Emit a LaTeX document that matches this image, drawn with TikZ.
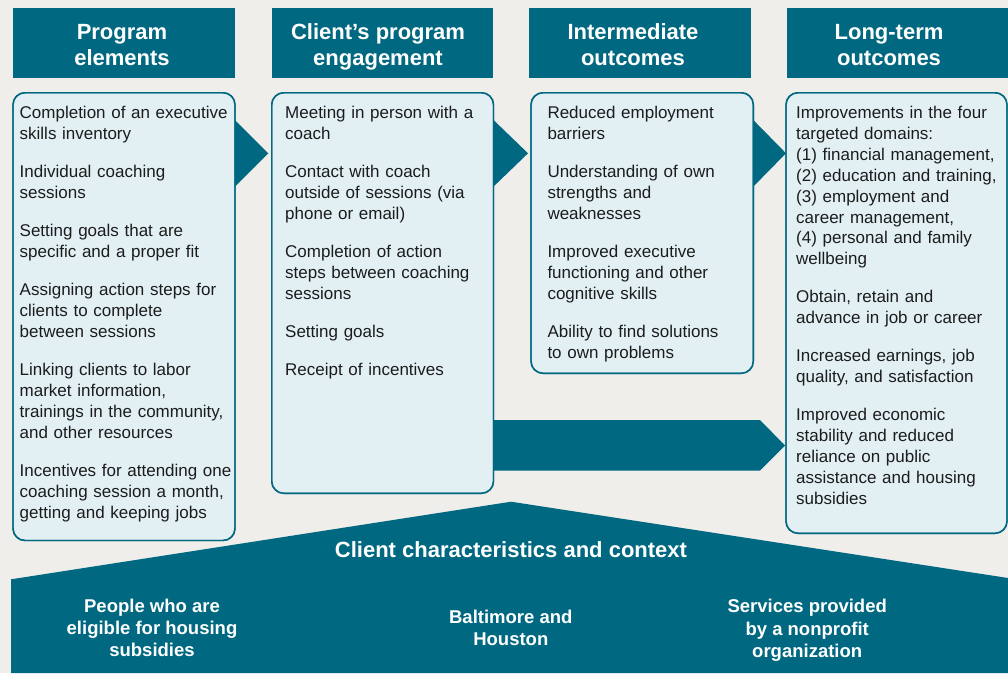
\documentclass[tikz,border=0pt]{standalone}
\usepackage{fontspec}
\setmainfont{Liberation Sans}
\usetikzlibrary{calc}
\definecolor{tealdark}{RGB}{0,104,128}
\definecolor{boxfill}{RGB}{226,240,244}
\definecolor{bgcol}{RGB}{239,238,235}
\definecolor{ink}{RGB}{28,28,28}
\tikzset{
  hdrbox/.style={fill=tealdark, draw=none, inner sep=0pt, outer sep=0pt, anchor=north west},
  hdrtxt/.style={font=\fontsize{22}{26}\selectfont\bfseries, text=white, align=center, inner sep=0pt, anchor=north},
  contentbox/.style={fill=boxfill, draw=tealdark, line width=1.4pt, rounded corners=12pt, inner sep=0pt, outer sep=0pt, anchor=north west},
  boxborder/.style={draw=tealdark, line width=1.4pt, rounded corners=12pt},
  bodytxt/.style={font=\fontsize{17}{20.9}\selectfont, text=ink, align=left, text width=235pt, inner sep=0pt, anchor=north west},
  ctxtxt/.style={font=\fontsize{18.5}{22.3}\selectfont\bfseries, text=white, align=center, inner sep=0pt, anchor=north},
  shapefill/.style={fill=tealdark, draw=none}
}
\newcommand{\pgap}{\\[17.2pt]}
\begin{document}
\begin{tikzpicture}[x=1pt,y=-1pt]
\fill[bgcol] (0,0) rectangle (1008,673);
\useasboundingbox (0,0) rectangle (1008,673);

% context pentagon
\coordinate (pl) at (11,579.3);
\coordinate (pk) at (511,501.7);
\coordinate (pr) at (1008,578);
\fill[shapefill] (11,673) -- (pl) -- (pk) -- (pr) -- (1008,673) -- cycle;

% headers
\node[hdrbox, minimum width=222pt, minimum height=70pt] (h1) at (13,8) {};
\node[hdrbox, minimum width=221.6pt, minimum height=70pt] (h2) at (271.7,8) {};
\node[hdrbox, minimum width=222pt, minimum height=70pt] (h3) at (529,8) {};
\node[hdrbox, minimum width=221pt, minimum height=70pt] (h4) at (787,8) {};

\node[hdrtxt] (t1) at (122,21.1) {\strut Program\\elements};
\node[hdrtxt] (t2) at (378,21.1) {\strut Client’s program\\engagement};
\node[hdrtxt] (t3) at (633,21.1) {\strut Intermediate\\outcomes};
\node[hdrtxt] (t4) at (889,21.1) {\strut Long-term\\outcomes};

% content boxes (geometry)
\node[contentbox, minimum width=222pt, minimum height=447.8pt] (b1) at (13,92.7) {};
\node[contentbox, minimum width=221.8pt, minimum height=400.6pt] (b2) at (271.7,92.7) {};
\node[contentbox, minimum width=222.3pt, minimum height=280.6pt] (b3) at (531,92.7) {};
\node[contentbox, minimum width=221pt, minimum height=440.6pt] (b4) at (786,92.7) {};

% arrows between boxes
\fill[shapefill] ([yshift=-27.3pt]b1.north east) -- ++(33.3,33.3) -- ++(-33.3,33.3) -- cycle;
\fill[shapefill] ([yshift=-27.3pt]b2.north east) -- ++(34.5,33.3) -- ++(-34.5,33.3) -- cycle;
\fill[shapefill] ([yshift=-27.3pt]b3.north east) -- ++(32.7,33.3) -- ++(-32.7,33.3) -- cycle;
% big arrow
\coordinate (ba) at (b2.east |- 0,420);
\fill[shapefill] (ba) -- (760,420) -- (785,445.5) -- (760,470.7) -- (b2.east |- 0,470.7) -- cycle;

% redraw box borders over arrows
\draw[boxborder] (b1.north west) rectangle (b1.south east);
\draw[boxborder] (b2.north west) rectangle (b2.south east);
\draw[boxborder] (b3.north west) rectangle (b3.south east);
\draw[boxborder] (b4.north west) rectangle (b4.south east);

% box texts
\node[bodytxt] (x1) at (19.5,103.7) {\strut Completion of an executive\\skills inventory\pgap
Individual coaching\\sessions\pgap
Setting goals that are\\specific and a proper fit\pgap
Assigning action steps for\\clients to complete\\between sessions\pgap
Linking clients to labor\\market information,\\trainings in the community,\\and other resources\pgap
Incentives for attending one\\coaching session a month,\\getting and keeping jobs};

\node[bodytxt] (x2) at (285,103.7) {\strut Meeting in person with a\\coach\pgap
Contact with coach\\outside of sessions (via\\phone or email)\pgap
Completion of action\\steps between coaching\\sessions\pgap
Setting goals\pgap
Receipt of incentives};

\node[bodytxt] (x3) at (547.3,103.7) {\strut Reduced employment\\barriers\pgap
Understanding of own\\strengths and\\weaknesses\pgap
Improved executive\\functioning and other\\cognitive skills\pgap
Ability to find solutions\\to own problems};

\node[bodytxt] (x4) at (796,103.7) {\strut Improvements in the four\\targeted domains:\\(1) financial management,\\(2) education and training,\\(3) employment and\\career management,\\(4) personal and family\\wellbeing\pgap
Obtain, retain and\\advance in job or career\pgap
Increased earnings, job\\quality, and satisfaction\pgap
Improved economic\\stability and reduced\\reliance on public\\assistance and housing\\subsidies};

% context texts
\node[font=\fontsize{22}{26}\selectfont\bfseries, text=white, inner sep=0pt, anchor=base] (ctitle) at (511,557.3) {Client characteristics and context};
\node[ctxtxt] (c1) at (152,596.4) {\strut People who are\\eligible for housing\\subsidies};
\node[ctxtxt] (c2) at (510.8,607.4) {\strut Baltimore and\\Houston};
\node[ctxtxt] (c3) at (807.2,596.9) {\strut Services provided\\by a nonprofit\\organization};
\end{tikzpicture}
\end{document}
